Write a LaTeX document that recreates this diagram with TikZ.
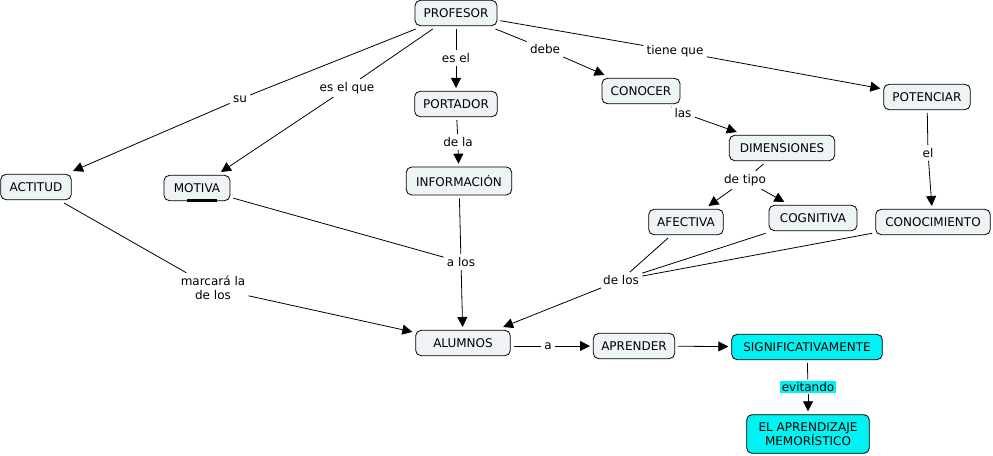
\documentclass[tikz,border=0pt]{standalone}
\usepackage{fontspec}
\setmainfont{DejaVu Sans}
\usetikzlibrary{arrows.meta}
\definecolor{boxfill}{HTML}{EEF4F6}
\definecolor{hotfill}{HTML}{00F2F2}
\tikzset{
	concept/.style={draw, rounded corners=4pt, fill=boxfill, line width=0.6pt, minimum height=19pt,
		inner sep=2pt, outer sep=2.5pt, font=\fontsize{9}{10.5}\selectfont, align=center},
	hot/.style={concept, fill=hotfill},
	linklbl/.style={inner sep=1.5pt, outer sep=1pt, font=\fontsize{9}{10.5}\selectfont, align=center},
	lnk/.style={line width=0.6pt},
	arr/.style={lnk, -{Triangle[length=7.5pt,width=7.5pt]}},
}

\begin{document}
\begin{tikzpicture}[x=0.75pt, y=-0.75pt]
		%%%%% START %%%%%
		\useasboundingbox (0, 0) rectangle (993, 456);
		
		\node[concept, minimum width=61.5pt] (profesor) at (456, 13) {PROFESOR};
		\node[concept, minimum width=62pt] (portador) at (456, 104) {PORTADOR};
		\node[concept, minimum width=79pt, minimum height=21pt] (informacion) at (459, 181) {INFORMACIÓN};
		\node[concept, minimum width=58.5pt] (conocer) at (641, 91) {CONOCER};
		\node[concept, minimum width=65pt] (potenciar) at (927, 97) {POTENCIAR};
		\node[concept, minimum width=79pt] (dimensiones) at (782, 148) {DIMENSIONES};
		\node[concept, minimum width=56pt] (afectiva) at (686, 222) {AFECTIVA};
		\node[concept, minimum width=66pt] (cognitiva) at (813, 218) {COGNITIVA};
		\node[concept, minimum width=86pt] (conocimiento) at (933, 222) {CONOCIMIENTO};
		\node[concept, minimum width=53pt] (actitud) at (36, 187) {ACTITUD};
		\node[concept, minimum width=49.5pt] (motiva) at (197, 188) {MOTIVA};
		\node[concept, minimum width=71pt] (alumnos) at (463, 343) {ALUMNOS};
		\node[concept, minimum width=61pt] (aprender) at (634, 346) {APRENDER};
		\node[hot, minimum width=113pt] (signif) at (807, 347) {SIGNIFICATIVAMENTE};
		\node[hot, minimum width=92pt, minimum height=29pt] (memoristico) at (808, 434) {EL APRENDIZAJE\\MEMORÍSTICO};
		
		\draw[line width=1.6pt] (187, 200.5) -- (217, 200.5);
		
		% link labels
		\node[linklbl] (su) at (240, 99) {su};
		\node[linklbl] (esque) at (347, 88) {es el que};
		\node[linklbl] (esel) at (456, 58) {es el};
		\node[linklbl] (debe) at (545, 49) {debe};
		\node[linklbl] (tiene) at (675, 51) {tiene que};
		\node[linklbl] (dela) at (458, 142) {de la};
		\node[linklbl] (las) at (683, 113) {las};
		\node[linklbl] (tipo) at (745, 180) {de tipo};
		\node[linklbl] (el) at (928, 153) {el};
		\node[linklbl] (marcara) at (213, 288) {marcará la\\de los};
		\node[linklbl] (alos) at (461, 262) {a los};
		\node[linklbl] (delos) at (621, 280) {de los};
		\node[linklbl] (a) at (548, 346) {a};
		\node[linklbl, fill=hotfill, inner sep=1pt] (evitando) at (808, 387) {evitando};
		
		% connectors
		\draw[lnk] (profesor) -- (su);
		\draw[arr] (su) -- (actitud);
		\draw[lnk] (profesor) -- (esque);
		\draw[arr] (esque) -- (motiva);
		\draw[lnk] (profesor) -- (esel);
		\draw[arr] (esel) -- (portador);
		\draw[lnk] (profesor) -- (debe);
		\draw[arr] (debe) -- (conocer);
		\draw[lnk] (profesor) -- (tiene);
		\draw[arr] (tiene) -- (potenciar);
		
		\draw[lnk] (portador) -- (dela);
		\draw[arr] (dela) -- (informacion);
		\draw[lnk] (conocer) -- (las);
		\draw[arr] (las) -- (dimensiones);
		\draw[lnk] (dimensiones) -- (tipo);
		\draw[arr] (tipo) -- (afectiva);
		\draw[arr] (tipo) -- (cognitiva);
		\draw[lnk] (potenciar) -- (el);
		\draw[arr] (el) -- (conocimiento);
		
		\draw[lnk] (actitud) -- (marcara);
		\draw[arr] (marcara) -- (alumnos);
		\draw[lnk] (motiva) -- (alos);
		\draw[lnk] (informacion) -- (alos);
		\draw[arr] (alos) -- (alumnos);
		\draw[lnk] (afectiva) -- (delos);
		\draw[lnk] (cognitiva) -- (delos);
		\draw[lnk] (conocimiento) -- (delos);
		\draw[arr] (delos) -- (alumnos);
		
		\draw[lnk] (alumnos.east |- a) -- (a);
		\draw[arr] (a) -- (aprender);
		\draw[arr] (aprender) -- (signif);
		\draw[lnk] (signif) -- (evitando);
		\draw[arr] (evitando) -- (memoristico);
		
		%%%%% END %%%%%
	\end{tikzpicture}
\end{document}
